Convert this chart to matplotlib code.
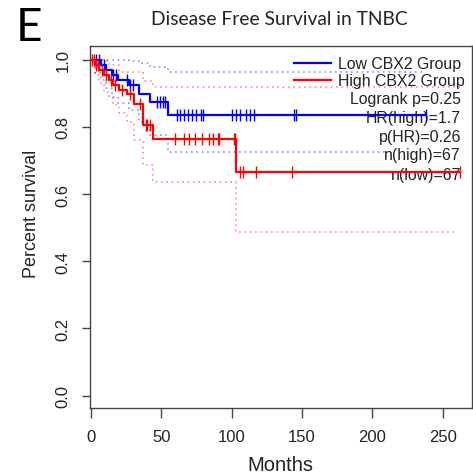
import numpy as np
import matplotlib.pyplot as plt
from matplotlib.lines import Line2D

# Kaplan-Meier curves (months, survival)
low_t = [0, 7, 11, 15, 19, 27, 34, 42, 55]
low_s = [1.0, 0.985, 0.970, 0.955, 0.940, 0.926, 0.898, 0.873, 0.836]
low_end = 238
low_cens = [4, 6, 9, 16, 18, 26, 28, 30, 47, 49, 51, 53,
            61, 63, 66, 69, 72, 75, 78, 80, 100, 103, 106, 110, 113, 116, 144, 145.5, 238]

high_t = [0, 3, 6, 9.5, 13, 16, 20, 26, 31, 37, 44, 103]
high_s = [1.0, 0.985, 0.970, 0.955, 0.940, 0.925, 0.910, 0.898, 0.868, 0.806, 0.764, 0.667]
high_end = 262
high_cens = [1, 2, 4, 5, 8, 11, 14, 17, 22, 28, 35, 39, 40, 42,
             60, 66, 70, 74, 79, 84, 87, 90, 91, 101.5, 102.5, 106, 108, 117, 143, 262]

# confidence bands
low_up_t = [0, 15, 27, 34, 42, 55]
low_up_s = [1.0, 0.998, 0.995, 0.990, 0.977, 0.962]
low_up_end = 236
low_lo_t = [0, 3, 7, 11, 15, 19, 27, 34, 42, 55]
low_lo_s = [1.0, 0.96, 0.94, 0.915, 0.89, 0.87, 0.85, 0.815, 0.775, 0.724]
low_lo_end = 210

high_up_t = [0, 6, 13, 20, 37, 44]
high_up_s = [1.0, 0.997, 0.985, 0.962, 0.936, 0.918]
high_up_end = 262
high_lo_t = [0, 3, 6, 9.5, 13, 16, 20, 26, 31, 37, 44, 103]
high_lo_s = [1.0, 0.955, 0.93, 0.905, 0.885, 0.865, 0.84, 0.815, 0.76, 0.685, 0.636, 0.486]
high_lo_end = 258

stats = ["Logrank p=0.25", "HR(high)=1.7", "p(HR)=0.26", "n(high)=67", "n(low)=67"]

BLUE = "#0000ff"
RED = "#ff0000"
FONT = "Liberation Sans"

fig = plt.figure(figsize=(4.73, 4.77), dpi=100)
ax = fig.add_axes([0.190, 0.1426, 0.807, 0.759])


def km(t, s, end):
    return list(t) + [end], list(s) + [s[-1]]


def surv_at(t, s, x):
    i = np.searchsorted(t, x, side="right") - 1
    return np.array(s)[i]


for t, s, end, c in [(low_up_t, low_up_s, low_up_end, BLUE), (low_lo_t, low_lo_s, low_lo_end, BLUE),
                     (high_up_t, high_up_s, high_up_end, RED), (high_lo_t, high_lo_s, high_lo_end, RED)]:
    xx, yy = km(t, s, end)
    ax.step(xx, yy, where="post", color=c, alpha=0.45, lw=1.2, ls=(0, (1, 2.2)), zorder=2)

for t, s, end, cens, c in [(low_t, low_s, low_end, low_cens, BLUE),
                           (high_t, high_s, high_end, high_cens, RED)]:
    xx, yy = km(t, s, end)
    ax.step(xx, yy, where="post", color=c, lw=1.6, zorder=3)
    ax.plot(cens, surv_at(t, s, cens), ls="none", marker="|", ms=8, mew=1.0, color=c, zorder=3)

ax.set_xlim(-0.7, 270.5)
ax.set_ylim(-0.037, 1.041)
ax.set_xticks(np.arange(0, 251, 50))
ax.set_yticks(np.arange(0, 1.01, 0.2))
ax.set_yticklabels([f"{v:.1f}" for v in np.arange(0, 1.01, 0.2)], rotation=90, va="center")
for lab in ax.get_xticklabels() + ax.get_yticklabels():
    lab.set_fontfamily(FONT)
    lab.set_fontsize(12)
    lab.set_color("#222222")
ax.tick_params(axis="x", length=7, width=1, color="#444444", pad=8)
ax.tick_params(axis="y", length=6, width=1, color="#444444", pad=8)
for sp in ax.spines.values():
    sp.set_color("#444444")
    sp.set_linewidth(1)

ax.set_xlabel("Months", fontfamily=FONT, fontsize=14.5, color="#222222")
ax.set_ylabel("Percent survival", fontfamily=FONT, fontsize=13, color="#222222")
ax.xaxis.set_label_coords(0.5, -0.13)
ax.yaxis.set_label_coords(-0.13, 0.539)

handles = [Line2D([], [], color=BLUE, lw=1.6), Line2D([], [], color=RED, lw=1.6)]
ax.legend(handles, ["Low CBX2 Group", "High CBX2 Group"], loc="upper left",
          bbox_to_anchor=(0.536, 0.972), frameon=False, borderpad=0, borderaxespad=0,
          handlelength=2.3, handletextpad=0.45, labelspacing=0.15,
          prop={"family": FONT, "size": 11.4}, labelcolor="#222222")

ys = [0.8555, 0.803, 0.7506, 0.699, 0.646]
for txt, y in zip(stats, ys):
    ax.text(0.972, y, txt, transform=ax.transAxes, ha="right", va="center",
            fontfamily=FONT, fontsize=11.4, color="#222222", zorder=1)

fig.text(0.591, 0.960, "Disease Free Survival in TNBC", ha="center", va="center",
         fontfamily="Lato", fontsize=13.9, color="#222222")
fig.text(0.034, 0.985, "E", ha="left", va="top", fontfamily="Lato", fontsize=33, color="black")

fig.savefig("out.png", dpi=100)
